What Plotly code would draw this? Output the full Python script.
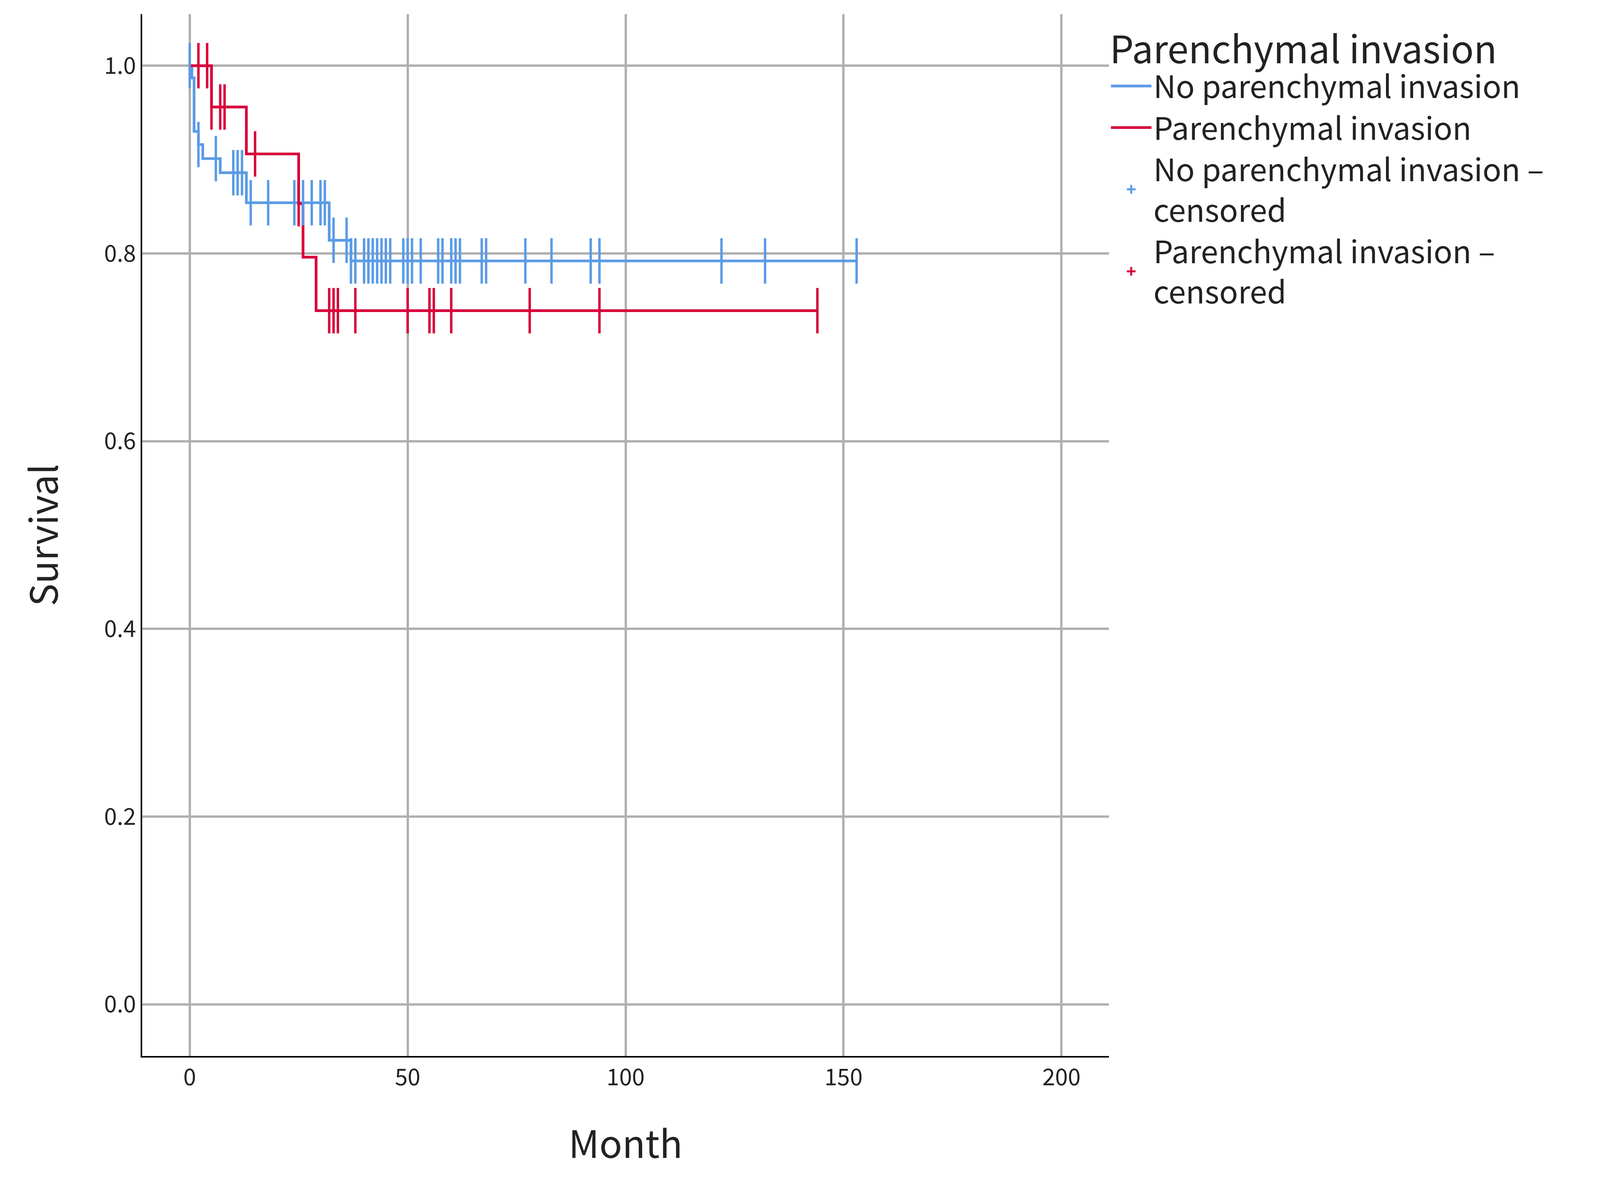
import plotly.graph_objects as go

S = 3.46
# Step curves (time, survival)
blue_t = [0, 0.5, 1, 2, 3, 7, 13, 32, 37, 153]
blue_s = [1.0, 0.987, 0.930, 0.916, 0.901, 0.886, 0.854, 0.814, 0.792, 0.792]
red_t = [0, 5, 13, 25, 26, 29, 144]
red_s = [1.0, 0.956, 0.906, 0.853, 0.796, 0.739, 0.739]

blue_cens_t = [0, 2, 6, 10, 11, 12, 14, 18, 24, 26, 28, 30, 31, 33, 36, 37, 38, 40, 41, 42, 43, 44, 45, 46,
               49, 50, 51, 53, 57, 58, 60, 61, 62, 67, 68, 77, 83, 92, 94, 122, 132, 153]
blue_cens_s = [1.0, 0.916, 0.901, 0.886, 0.886, 0.886, 0.854, 0.854, 0.854, 0.854, 0.854, 0.854, 0.854,
               0.814, 0.814] + [0.792] * 27
red_cens_t = [2, 4, 5, 7, 8, 15, 25, 32, 33, 34, 38, 50, 55, 56, 60, 78, 94, 144]
red_cens_s = [1.0, 1.0, 0.956, 0.956, 0.956, 0.906, 0.853] + [0.739] * 11

BLUE = "#5A9BE6"
RED = "#D7003A"
FONT = "Noto Sans CJK KR"

fig = go.Figure()
fig.add_trace(go.Scatter(x=blue_t, y=blue_s, mode="lines", line=dict(shape="hv", color=BLUE, width=2 * S),
                         name="No parenchymal invasion"))
fig.add_trace(go.Scatter(x=red_t, y=red_s, mode="lines", line=dict(shape="hv", color=RED, width=2 * S),
                         name="Parenchymal invasion"))
fig.add_trace(go.Scatter(x=blue_cens_t, y=blue_cens_s, mode="markers", showlegend=False,
                         marker=dict(symbol="line-ns-open", size=24 * S, color=BLUE,
                                     line=dict(color=BLUE, width=1.8 * S))))
fig.add_trace(go.Scatter(x=red_cens_t, y=red_cens_s, mode="markers", showlegend=False,
                         marker=dict(symbol="line-ns-open", size=24 * S, color=RED,
                                     line=dict(color=RED, width=1.8 * S))))
fig.add_trace(go.Scatter(x=[None], y=[None], mode="markers", name="No parenchymal invasion –<br>censored",
                         marker=dict(symbol="cross-thin-open", size=22 * S, color=BLUE,
                                     line=dict(color=BLUE, width=1.8 * S))))
fig.add_trace(go.Scatter(x=[None], y=[None], mode="markers", name="Parenchymal invasion –<br>censored",
                         marker=dict(symbol="cross-thin-open", size=22 * S, color=RED,
                                     line=dict(color=RED, width=1.8 * S))))

grid = dict(showgrid=True, gridcolor="#B0B0B0", gridwidth=1.6 * S, zeroline=False,
            showline=True, linecolor="black", linewidth=1.2 * S, ticks="",
            tickfont=dict(family=FONT, size=17 * S, color="#222"))
fig.update_xaxes(range=[-10.9, 210.9], tickvals=[0, 50, 100, 150, 200], **grid,
                 title=dict(text="Month", font=dict(family=FONT, size=28 * S, color="#222"), standoff=30 * S))
fig.update_yaxes(range=[-0.055, 1.055], tickvals=[0, 0.2, 0.4, 0.6, 0.8, 1.0], tickformat=".1f", **grid,
                 title=dict(text="Survival", font=dict(family=FONT, size=28 * S, color="#222"), standoff=25 * S))
fig.update_layout(
    plot_bgcolor="white", paper_bgcolor="white",
    margin=dict(l=103 * S, r=(1560 - 1199) * S, t=8 * S, b=100 * S, autoexpand=False),
    font=dict(family=FONT),
    legend=dict(x=1.0, y=1.0, xanchor="left", yanchor="top",
                title=dict(text="Parenchymal invasion", font=dict(family=FONT, size=28 * S, color="#222")),
                font=dict(family=FONT, size=23 * S, color="#222"), itemwidth=30 * S, tracegroupgap=0),
)
fig.write_html("out.html", default_width="100%", default_height="100vh")
